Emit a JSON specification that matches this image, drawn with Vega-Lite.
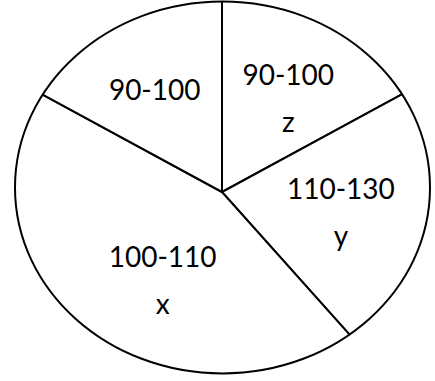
{
  "$schema": "https://vega.github.io/schema/vega-lite/v6.json",
  "width": 426,
  "height": 378,
  "autosize": "none",
  "padding": {"left": 9, "top": 3, "right": 0, "bottom": 0},
  "background": "white",
  "config": {"view": {"stroke": null}},
  "layer": [
    {
      "data": {"name": "sectors", "values": [
        {"range": "90-100", "label": "90-100\nz", "deg": 61.5, "order": 1},
        {"range": "110-130", "label": "110-130\ny", "deg": 76.7, "order": 2},
        {"range": "100-110", "label": "100-110\nx", "deg": 160.3, "order": 3},
        {"range": "90-100", "label": "90-100", "deg": 61.5, "order": 4}
      ]},
      "encoding": {
        "theta": {"field": "deg", "type": "quantitative", "stack": true},
        "order": {"field": "order", "type": "quantitative"}
      },
      "mark": {"type": "arc", "outerRadius": 235, "fill": "white", "stroke": "black", "strokeWidth": 2}
    },
    {
      "data": {"values": [{"part": "outside"}]},
      "mark": {
        "type": "point",
        "shape": "M -2.2 -0.0217 L -2.2 -2.2 L 2.2 -2.2 L 2.2 -0.0217 L 1.0024 -0.0217 A 1 0.896 0 0 0 -0.9976 -0.0217 Z M -2.2 -0.0217 L -0.9976 -0.0217 A 1 0.896 0 0 0 1.0024 -0.0217 L 2.2 -0.0217 L 2.2 2.2 L -2.2 2.2 Z",
        "size": 172225,
        "filled": true,
        "fill": "white",
        "strokeWidth": 0,
        "opacity": 1
      },
      "encoding": {}
    },
    {
      "data": {"values": [{"part": "outline"}]},
      "mark": {
        "type": "point",
        "shape": "M -0.9976 -0.0217 A 1 0.896 0 1 1 1.0024 -0.0217 A 1 0.896 0 1 1 -0.9976 -0.0217 Z",
        "size": 172225,
        "filled": false,
        "stroke": "black",
        "strokeWidth": 2,
        "opacity": 1
      },
      "encoding": {}
    },
    {
      "data": {"name": "sectors"},
      "mark": {
        "type": "text",
        "radius": 111,
        "dx": 9.5,
        "dy": -20,
        "font": "Lato",
        "fontSize": 28,
        "lineBreak": "\n",
        "lineHeight": 47,
        "align": "center",
        "baseline": "middle",
        "color": "black"
      },
      "encoding": {
        "theta": {"field": "deg", "type": "quantitative", "stack": true},
        "order": {"field": "order", "type": "quantitative"},
        "text": {"condition": {"test": "datum.label != datum.range", "field": "label", "type": "nominal"}, "value": ""}
      }
    },
    {
      "data": {"name": "sectors"},
      "mark": {
        "type": "text",
        "radius": 116,
        "dx": -8,
        "font": "Lato",
        "fontSize": 28,
        "align": "center",
        "baseline": "middle",
        "color": "black"
      },
      "encoding": {
        "theta": {"field": "deg", "type": "quantitative", "stack": true},
        "order": {"field": "order", "type": "quantitative"},
        "text": {"condition": {"test": "datum.label == datum.range", "field": "label", "type": "nominal"}, "value": ""}
      }
    }
  ]
}
